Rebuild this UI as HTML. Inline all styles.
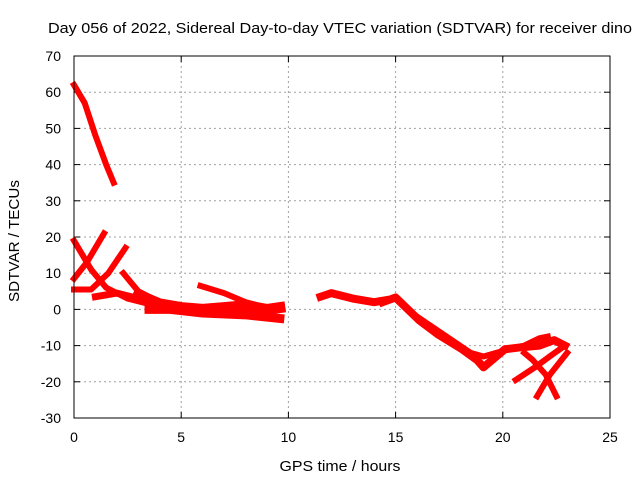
<!DOCTYPE html>
<html><head><meta charset="utf-8"><style>
body{margin:0;background:#fff}
svg{display:block;font-family:"Liberation Sans",sans-serif}
</style></head><body>
<svg id="chart" width="640" height="480" viewBox="0 0 640 480">
<rect width="640" height="480" fill="#fff"/>
<text x="340" y="33" font-size="15" text-anchor="middle" textLength="584" lengthAdjust="spacingAndGlyphs" fill="#000">Day 056 of 2022, Sidereal Day-to-day VTEC variation (SDTVAR) for receiver dino</text>
<text x="340" y="471" font-size="15" text-anchor="middle" textLength="121" lengthAdjust="spacingAndGlyphs">GPS time / hours</text>
<text transform="translate(19,241) rotate(-90)" font-size="15" text-anchor="middle" textLength="122" lengthAdjust="spacingAndGlyphs">SDTVAR / TECUs</text>
<g id="grid"></g>
<g id="ticks"></g>
<g id="series"></g>
<rect x="74" y="56" width="536" height="362" fill="none" stroke="#000" stroke-width="1"/>
</svg>
<script>
const xTicks=[0,5,10,15,20,25];
const yTicks=[70,60,50,40,30,20,10,0,-10,-20,-30];
const track1=[[0,62],[0.5,57],[1,48],[1.5,40],[1.85,35]];
const track2=[[0,19],[0.8,11],[1.5,6],[2.5,3],[3.5,1.5]];
const track3=[[0,8.5],[0.6,13],[1.4,21]];
const track4=[[0,5.5],[0.8,5.5],[1.6,10],[2.4,17]];
const track5=[[1,3.5],[2,4.5],[3,3],[4,1.5]];
const track6=[[2.3,10],[3,5],[4,2],[5,1]];
const track7=[[3,4],[4,1.5],[5,0.5],[6,0],[7,0.5],[8,1],[9,0],[9.6,0.5]];
const track8=[[5.9,6.5],[7,4.5],[8,2],[9,0.5]];
const track9=[[3.5,0],[4.5,0],[6,-1],[8,-1.5],[9.6,-2.5]];
const track10=[[11.5,3.5],[12,4.5],[13,3],[14,2],[14.5,2.5]];
const track11=[[14.4,2],[15,3.3],[16.1,-3],[17,-7],[18.1,-11],[18.8,-14],[19.1,-16],[20.1,-11],[20.8,-10.5],[21.7,-10],[22.4,-8.5],[22.9,-10]];
const track12=[[16,-2],[17,-6],[18.5,-12],[19.1,-13],[20,-11.5],[21,-10],[21.7,-8],[22.1,-7.5]];
const track13=[[20.6,-19.5],[21.5,-16],[22.3,-12.5],[22.9,-10]];
const track14=[[21.6,-24],[22.2,-18],[23,-12]];
const track15=[[22.5,-24],[22,-18],[21.4,-14],[21,-12]];
const tracks=[track1,track2,track3,track4,track5,track6,track7,track8,track9,track10,track11,track12,track13,track14,track15];
const widths=[6,6,6,6,7,6,11,6,9,8,8,6,6,6,6];
const X=h=>74+h*536/25, Y=v=>418-(v+30)*362/100;
const NS="http://www.w3.org/2000/svg";
const g=document.getElementById('grid'),t=document.getElementById('ticks'),s=document.getElementById('series');
function mk(tag,at,p){const e=document.createElementNS(NS,tag);for(const k in at)e.setAttribute(k,at[k]);p.appendChild(e);return e;}
xTicks.forEach(v=>{const x=X(v);
 if(v>0&&v<25){const l=mk('line',{x1:x,x2:x,y1:56,y2:418,stroke:'#a0a0a0','stroke-dasharray':'2,3'},g);
 
 }
 mk('line',{x1:x,x2:x,y1:418,y2:412,stroke:'#000'},t);mk('line',{x1:x,x2:x,y1:56,y2:62,stroke:'#000'},t);
 const tx=mk('text',{x:x,y:442,'font-size':14,'text-anchor':'middle'},t);tx.textContent=v;
 
 });
yTicks.forEach(v=>{const y=Y(v);
 if(v>-30&&v<70){const l=mk('line',{x1:74,x2:610,y1:y,y2:y,stroke:'#a0a0a0','stroke-dasharray':'2,3'},g);
 
 }
 mk('line',{x1:74,x2:80,y1:y,y2:y,stroke:'#000'},t);mk('line',{x1:610,x2:604,y1:y,y2:y,stroke:'#000'},t);
 const tx=mk('text',{x:61,y:y+5,'font-size':14,'text-anchor':'end'},t);tx.textContent=v;
 
 });
tracks.forEach((tr,i)=>{const p=mk('polyline',{points:tr.map(d=>X(d[0])+','+Y(d[1])).join(' '),fill:'none',stroke:'#ff0000','stroke-width':widths[i],'stroke-linejoin':'round','stroke-linecap':'square'},s);
 
 });
</script>
</body></html>
